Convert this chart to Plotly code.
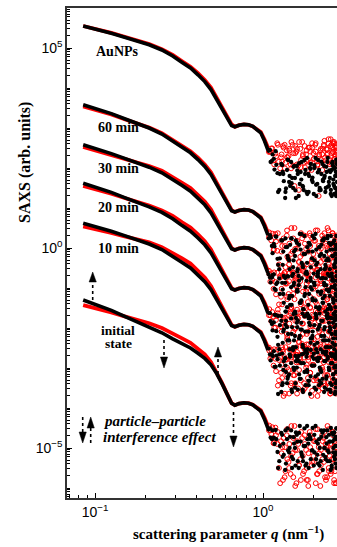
import numpy as np
import plotly.graph_objects as go

# ---------------- data ----------------
# scattering parameter q (nm^-1): smooth part of the curves
q_smooth = [0.085, 0.10, 0.125, 0.15, 0.18, 0.21, 0.25, 0.29, 0.33, 0.37, 0.41, 0.45, 0.49,
            0.53, 0.57, 0.61, 0.65, 0.68, 0.72, 0.77, 0.82, 0.87, 0.92, 0.97, 1.02, 1.07]
# q of the noisy high-q points (black dots / red circles)
q_noise_black = [1.08, 1.11, 1.14, 1.17, 1.20, 1.23, 1.26, 1.30, 1.33, 1.37, 1.40, 1.44, 1.48, 1.52,
                 1.56, 1.60, 1.64, 1.69, 1.73, 1.78, 1.83, 1.87, 1.92, 1.97, 2.02, 2.07, 2.12, 2.17,
                 2.22, 2.28, 2.33, 2.38, 2.43, 2.48, 2.53, 2.58, 2.62, 2.66, 2.70, 2.74,
                 1.10, 1.13, 1.16, 1.19, 1.22, 1.25, 1.285, 1.32, 1.355, 1.39, 1.43, 1.47, 1.51, 1.55,
                 1.59, 1.63, 1.675, 1.72, 1.765, 1.815, 1.86, 1.905, 1.955, 2.005, 2.055, 2.105, 2.155,
                 2.205, 2.26, 2.315, 2.365, 2.415, 2.465, 2.515, 2.565, 2.61, 2.65, 2.69, 2.73, 2.745,
                 1.31, 1.36, 1.41, 1.45, 1.49, 1.53, 1.57, 1.61, 1.655, 1.70, 1.745, 1.79, 1.835, 1.88,
                 1.925, 1.975, 2.025, 2.075, 2.125, 2.175, 2.225, 2.27, 2.31, 2.35, 2.39, 2.43, 2.47,
                 2.50, 2.535, 2.565, 2.595, 2.625, 2.655, 2.68, 2.705, 2.725, 2.74, 2.755, 2.715, 2.695]
q_noise_red = [1.09, 1.12, 1.155, 1.185, 1.215, 1.245, 1.28, 1.315, 1.35, 1.385, 1.42, 1.46, 1.50,
               1.54, 1.58, 1.62, 1.665, 1.71, 1.755, 1.805, 1.85, 1.895, 1.945, 1.995, 2.045, 2.095,
               2.145, 2.195, 2.25, 2.305, 2.355, 2.405, 2.455, 2.505, 2.555, 2.60, 2.64, 2.68, 2.72, 2.75,
               1.085, 1.105, 1.135, 1.165, 1.195, 1.225, 1.265, 1.29, 1.325, 1.36, 1.395, 1.435, 1.475,
               1.515, 1.555, 1.595, 1.635, 1.68, 1.725, 1.77, 1.82, 1.86, 1.91, 1.96, 2.01, 2.06, 2.11,
               2.16, 2.21, 2.265, 2.32, 2.37, 2.42, 2.47, 2.52, 2.57, 2.61, 2.65, 2.69, 2.73,
               1.30, 1.345, 1.39, 1.43, 1.47, 1.515, 1.555, 1.595, 1.64, 1.685, 1.73, 1.775, 1.82,
               1.865, 1.91, 1.96, 2.01, 2.06, 2.11, 2.16, 2.21, 2.255, 2.30, 2.34, 2.38, 2.42, 2.46,
               2.495, 2.53, 2.56, 2.59, 2.62, 2.65, 2.675, 2.70, 2.72, 2.735, 2.75, 2.71, 2.685]

# log10 of SAXS intensity (arb. units)
aunps_black_smooth = [5.55, 5.48, 5.37, 5.27, 5.17, 5.08, 4.95, 4.80, 4.64, 4.50, 4.33, 4.16, 3.96,
                      3.71, 3.47, 3.25, 3.06, 3.03, 3.07, 3.09, 3.08, 3.04, 2.97, 2.88, 2.68, 2.45]
aunps_red_smooth = [5.55, 5.48, 5.38, 5.28, 5.19, 5.10, 4.97, 4.83, 4.67, 4.53, 4.37, 4.20, 4.01,
                    3.76, 3.52, 3.29, 3.09, 3.03, 3.07, 3.09, 3.08, 3.04, 2.97, 2.90, 2.72, 2.51]
aunps_black_noise = [2.43, 2.15, 2.34, 1.96, 2.08, 1.40, 1.85, 2.07, 1.67, 1.49, 2.21, 1.80, 1.62,
                     2.03, 1.44, 1.94, 2.12, 1.71, 1.53, 1.85, 2.25, 1.40, 1.98, 1.76, 2.07, 1.58,
                     1.89, 1.44, 2.16, 1.67, 1.80, 2.03, 1.53, 1.94, 1.35, 2.12, 1.71, 1.98, 1.49, 2.21,
                     2.45, 2.18, 2.23, 2.42, 1.87, 1.45, 2.10, 1.85, 1.25, 1.95, 1.65, 2.15, 1.50,
                     1.75, 2.05, 1.30, 1.90, 1.55, 2.20, 1.40, 1.85, 2.00, 1.70, 1.35, 2.25, 1.60,
                     1.95, 1.45, 2.10, 1.75, 1.50, 2.15, 1.65, 1.90, 1.30, 2.05, 1.55, 1.80, 2.20, 1.40,
                     1.90, 1.40, 2.20, 1.55, 1.75, 2.05, 1.25, 1.85, 1.60, 2.15, 1.45, 1.95, 1.35,
                     1.80, 2.10, 1.65, 2.00, 1.30, 2.20, 1.50, 1.85, 1.70, 2.05, 1.40, 1.90, 2.25,
                     1.55, 1.75, 1.45, 1.95, 2.15, 1.60, 1.35, 2.00, 1.80, 1.30, 2.10, 1.65, 1.90, 1.50]
aunps_red_noise = [2.42, 2.49, 2.19, 2.36, 2.62, 2.16, 2.27, 2.55, 1.99, 2.44, 2.30, 2.09, 2.58,
                   1.55, 2.41, 2.06, 2.48, 2.65, 2.13, 2.34, 2.20, 2.51, 1.95, 2.37, 2.58, 2.16,
                   1.30, 2.44, 2.34, 2.55, 2.19, 2.33, 2.72, 2.09, 2.58, 2.40, 2.61, 2.23, 2.51, 2.37,
                   2.40, 2.41, 2.49, 2.09, 2.29, 2.58, 1.99, 2.34, 2.51, 2.13, 2.27, 2.44, 2.65,
                   2.06, 2.37, 2.48, 1.45, 2.02, 2.30, 2.55, 2.16, 1.95, 2.41, 2.51, 2.23, 2.62,
                   2.09, 2.34, 2.20, 2.48, 2.68, 2.12, 2.47, 2.23, 2.54, 2.37, 2.65, 2.09, 2.40, 2.51,
                   2.16, 2.58, 2.27, 2.48, 1.99, 2.37, 2.55, 2.09, 2.65, 2.20, 2.34, 2.02, 2.44,
                   2.51, 2.13, 2.62, 2.23, 2.41, 2.06, 2.30, 2.48, 1.95, 2.58, 2.26, 2.47, 2.37,
                   2.61, 2.19, 2.72, 2.12, 2.51, 2.40, 2.65, 2.23, 2.33, 2.54, 2.09, 2.44, 2.58, 2.30]

m60_black_smooth = [3.58, 3.49, 3.36, 3.23, 3.11, 3.00, 2.85, 2.68, 2.52, 2.38, 2.21, 2.04, 1.84,
                    1.59, 1.35, 1.13, 0.93, 0.90, 0.94, 0.96, 0.95, 0.91, 0.84, 0.75, 0.55, 0.32]
m60_red_smooth = [3.54, 3.46, 3.34, 3.22, 3.11, 3.01, 2.87, 2.71, 2.56, 2.42, 2.26, 2.09, 1.89,
                  1.64, 1.40, 1.17, 0.95, 0.90, 0.94, 0.96, 0.95, 0.91, 0.84, 0.77, 0.59, 0.38]
m60_black_noise = [0.24, 0.26, -0.13, 0.04, 0.28, -0.42, -0.26, 0.19, -0.70, 0.02, -0.20, -0.53, 0.24,
                   -0.31, -0.04, -0.59, 0.08, 0.35, -0.48, -0.15, -0.37, 0.13, -0.75, -0.09, 0.24,
                   -0.42, -0.64, 0.02, -0.15, 0.19, -0.53, -0.31, 0.30, -0.70, 0.08, -0.20, 0.13,
                   -0.48, -0.04, -0.26,
                   0.32, 0.05, 0.10, 0.29, -0.27, -0.53, 0.19, -0.09, -0.75, 0.02, -0.31, 0.24, -0.48,
                   -0.20, 0.13, -0.70, -0.04, -0.42, 0.30, -0.59, -0.09, 0.08, -0.26, -0.64, 0.35,
                   -0.37, 0.02, -0.53, 0.19, -0.20, -0.48, 0.24, -0.31, -0.04, -0.70, 0.13, -0.42,
                   -0.15, 0.30, -0.59,
                   -0.42, 0.24, -0.26, 0.08, -0.70, -0.09, 0.19, -0.53, 0.35, -0.37, -0.15, -0.64,
                   0.02, 0.13, -0.48, 0.30, -0.31, -0.04, -0.59, -0.20, 0.08, -0.75, 0.24, -0.42,
                   -0.09, -0.26, 0.13, -0.53, 0.30, -0.64, -0.04, -0.20, 0.19, -0.48, -0.31, 0.02,
                   -0.70, -0.15, 0.08, -0.37]
m60_red_noise = [0.39, 0.19, -0.05, 0.35, -0.07, -0.41, 0.18, -0.67, 0.05, 0.31, -0.28, -0.54, -0.09,
                 0.50, -0.74, 0.11, -0.22, 0.24, -0.48, -0.02, -0.67, 0.37, -0.35, -0.15, 0.18,
                 -0.54, 0.05, -0.80, 0.31, -0.28, 0.11, -0.61, 0.44, -0.02, -0.48, 0.37, -0.22,
                 0.11, -0.74, -0.09,
                 0.27, 0.28, 0.36, -0.04, 0.16, 0.37, -0.74, -0.09, 0.24, -0.48, -0.22, 0.11, 0.50,
                 -0.61, -0.02, 0.18, -0.35, -0.67, -0.15, 0.31, -0.41, -0.80, 0.05, 0.24, -0.28,
                 0.44, -0.54, -0.09, -0.35, 0.18, 0.37, -0.67, -0.02, -0.48, 0.11, -0.22, 0.31,
                 -0.74, -0.15, 0.05,
                 0.05, -0.61, 0.44, -0.41, -0.15, 0.24, -0.80, -0.02, -0.35, 0.37, -0.54, 0.11,
                 -0.67, -0.09, 0.31, -0.28, 0.18, -0.74, 0.44, -0.48, -0.02, -0.22, 0.24, -0.61,
                 0.05, 0.50, -0.41, -0.15, -0.54, 0.11, 0.37, -0.35, -0.67, 0.18, -0.09, -0.74,
                 0.31, -0.28, 0.05, -0.48]

m30_black_smooth = [2.58, 2.49, 2.36, 2.24, 2.12, 2.02, 1.88, 1.72, 1.56, 1.42, 1.25, 1.08, 0.88,
                    0.63, 0.39, 0.17, -0.02, -0.05, -0.01, 0.01, 0.00, -0.04, -0.11, -0.20, -0.40, -0.63]
m30_red_smooth = [2.53, 2.45, 2.33, 2.23, 2.13, 2.05, 1.93, 1.78, 1.63, 1.50, 1.33, 1.16, 0.96,
                  0.70, 0.45, 0.21, 0.00, -0.05, -0.01, 0.01, 0.00, -0.04, -0.11, -0.18, -0.36, -0.57]
m30_black_noise = [-0.66, -0.86, -0.68, -1.02, -0.90, -1.70, -1.15, -0.87, -1.37, -1.59, -0.71, -1.20,
                   -1.42, -0.93, -1.64, -1.04, -0.82, -1.31, -1.53, -1.15, -0.65, -1.70, -0.98,
                   -1.26, -0.87, -1.48, -1.09, -1.64, -0.76, -1.37, -1.20, -0.93, -1.53, -1.04,
                   -1.75, -0.82, -1.31, -0.98, -1.59, -0.71,
                   -0.74, -0.74, -0.66, -1.05, -0.86, -0.76, -1.70, -1.15, -0.87, -1.48, -1.26, -0.98,
                   -0.65, -1.59, -1.09, -0.93, -1.37, -1.64, -1.20, -0.82, -1.42, -1.75, -1.04,
                   -0.87, -1.31, -0.71, -1.53, -1.15, -1.37, -0.93, -0.76, -1.64, -1.09, -1.48,
                   -0.98, -1.26, -0.82, -1.70, -1.20, -1.04,
                   -1.04, -1.59, -0.71, -1.42, -1.20, -0.87, -1.75, -1.09, -1.37, -0.76, -1.53, -0.98,
                   -1.64, -1.15, -0.82, -1.31, -0.93, -1.70, -0.71, -1.48, -1.09, -1.26, -0.87,
                   -1.59, -1.04, -0.65, -1.42, -1.20, -1.53, -0.98, -0.76, -1.37, -1.64, -0.93,
                   -1.15, -1.70, -0.82, -1.31, -1.04, -1.48]
m30_red_noise = [-0.65, -0.63, -1.02, -0.85, -0.62, -1.41, -1.22, -0.70, -1.74, -0.89, -1.15, -1.54,
                 -0.63, -1.28, -0.96, -1.61, -0.83, -0.50, -1.48, -1.09, -1.35, -0.76, -1.80,
                 -1.02, -0.63, -1.41, -1.67, -0.89, -1.09, -0.70, -1.54, -1.28, -0.57, -1.74,
                 -0.83, -1.15, -0.76, -1.48, -0.96, -1.22,
                 -0.57, -0.84, -0.80, -0.61, -1.16, -1.54, -0.70, -1.02, -1.80, -0.89, -1.28, -0.63,
                 -1.48, -1.15, -0.76, -1.74, -0.96, -1.41, -0.57, -1.61, -1.02, -0.83, -1.22,
                 -1.67, -0.50, -1.35, -0.89, -1.54, -0.70, -1.15, -1.48, -0.63, -1.28, -0.96,
                 -1.74, -0.76, -1.41, -1.09, -0.57, -1.61,
                 -1.41, -0.63, -1.22, -0.83, -1.74, -1.02, -0.70, -1.54, -0.50, -1.35, -1.09, -1.67,
                 -0.89, -0.76, -1.48, -0.57, -1.28, -0.96, -1.61, -1.15, -0.83, -1.80, -0.63,
                 -1.41, -1.02, -1.22, -0.76, -1.54, -0.57, -1.67, -0.96, -1.15, -0.70, -1.48,
                 -1.28, -0.89, -1.74, -1.09, -0.83, -1.35]

m20_black_smooth = [1.62, 1.53, 1.39, 1.26, 1.14, 1.03, 0.89, 0.73, 0.56, 0.42, 0.25, 0.08, -0.12,
                    -0.37, -0.61, -0.83, -1.02, -1.05, -1.01, -0.99, -1.00, -1.04, -1.11, -1.20, -1.40, -1.63]
m20_red_smooth = [1.55, 1.48, 1.36, 1.25, 1.15, 1.06, 0.94, 0.80, 0.64, 0.51, 0.34, 0.17, -0.04,
                  -0.30, -0.55, -0.79, -1.00, -1.05, -1.01, -0.99, -1.00, -1.04, -1.11, -1.18, -1.36, -1.57]
m20_black_noise = [-1.62, -1.83, -2.06, -1.67, -2.08, -2.42, -1.93, -2.64, -2.04, -1.82, -2.31, -2.53,
                   -2.15, -1.65, -2.70, -1.98, -2.26, -1.87, -2.48, -2.09, -2.64, -1.76, -2.37,
                   -2.20, -1.93, -2.53, -2.04, -2.75, -1.82, -2.31, -1.98, -2.59, -1.71, -2.09,
                   -2.48, -1.76, -2.26, -1.98, -2.70, -2.15,
                   -1.63, -1.90, -1.86, -1.67, -2.22, -2.53, -1.82, -2.09, -2.75, -1.98, -2.31, -1.76,
                   -2.48, -2.20, -1.87, -2.70, -2.04, -2.42, -1.71, -2.59, -2.09, -1.93, -2.26,
                   -2.64, -1.65, -2.37, -1.98, -2.53, -1.82, -2.20, -2.48, -1.76, -2.31, -2.04,
                   -2.70, -1.87, -2.42, -2.15, -1.71, -2.59,
                   -2.37, -1.92, -2.15, -2.70, -1.98, -2.31, -2.48, -1.81, -2.20, -2.04, -2.64, -1.70,
                   -2.53, -1.87, -2.26, -2.09, -2.42, -1.76, -2.75, -1.92, -2.20, -2.59, -2.04,
                   -2.31, -1.70, -2.48, -1.87, -1.98, -2.64, -2.15, -2.37, -1.65, -2.53, -1.81,
                   -2.09, -2.70, -1.92, -2.26, -1.76, -2.42]
m20_red_noise = [-1.53, -1.83, -1.72, -1.99, -1.70, -2.80, -1.96, -2.54, -1.83, -2.15, -2.35, -1.63,
                 -2.67, -2.02, -2.48, -1.76, -2.22, -1.89, -2.74, -1.50, -2.09, -2.54, -2.28,
                 -1.70, -1.96, -2.67, -1.83, -2.41, -2.15, -1.57, -2.61, -2.35, -1.76, -2.09,
                 -2.74, -1.89, -2.22, -1.63, -2.48, -2.02,
                 -1.68, -1.68, -1.60, -1.99, -1.80, -1.63, -2.74, -2.09, -1.76, -2.48, -2.22, -1.89,
                 -1.50, -2.61, -2.02, -1.83, -2.35, -2.67, -2.15, -1.70, -2.41, -2.80, -1.96,
                 -1.76, -2.28, -1.57, -2.54, -2.09, -2.35, -1.83, -1.63, -2.67, -2.02, -2.48,
                 -1.89, -2.22, -1.70, -2.74, -2.15, -1.96,
                 -2.48, -1.95, -2.28, -1.69, -2.74, -2.09, -1.82, -2.67, -2.35, -1.63, -1.89, -2.54,
                 -2.15, -2.41, -1.50, -1.95, -2.61, -1.76, -2.22, -2.02, -2.48, -1.56, -2.74,
                 -1.82, -2.28, -1.69, -2.09, -2.67, -1.89, -2.54, -1.63, -2.35, -2.02, -2.80,
                 -1.76, -2.15, -2.41, -1.56, -2.61, -1.95]

m10_black_smooth = [0.62, 0.54, 0.42, 0.31, 0.20, 0.10, -0.04, -0.20, -0.36, -0.50, -0.67, -0.84, -1.04,
                    -1.29, -1.53, -1.75, -1.94, -1.97, -1.93, -1.91, -1.92, -1.96, -2.03, -2.12, -2.32, -2.55]
m10_red_smooth = [0.54, 0.48, 0.38, 0.29, 0.21, 0.14, 0.02, -0.12, -0.26, -0.39, -0.56, -0.74, -0.95,
                  -1.21, -1.47, -1.71, -1.92, -1.97, -1.93, -1.91, -1.92, -1.96, -2.03, -2.10, -2.28, -2.49]
m10_black_noise = [-2.51, -2.81, -2.70, -2.97, -2.69, -3.65, -2.94, -3.43, -2.83, -3.10, -3.27, -2.66,
                   -3.54, -2.99, -3.38, -2.77, -3.16, -2.88, -3.60, -2.55, -3.05, -3.43, -3.21,
                   -2.72, -2.94, -3.54, -2.83, -3.32, -3.10, -2.61, -3.49, -3.27, -2.77, -3.05,
                   -3.60, -2.88, -3.16, -2.66, -3.38, -2.99,
                   -2.66, -2.66, -2.58, -2.97, -2.78, -2.66, -3.60, -3.05, -2.77, -3.38, -3.16, -2.88,
                   -2.55, -3.49, -2.99, -2.83, -3.27, -3.54, -3.10, -2.72, -3.32, -3.65, -2.94,
                   -2.77, -3.21, -2.61, -3.43, -3.05, -3.27, -2.83, -2.66, -3.54, -2.99, -3.38,
                   -2.88, -3.16, -2.72, -3.60, -3.10, -2.94,
                   -3.38, -2.94, -3.21, -2.72, -3.60, -3.05, -2.83, -3.54, -3.27, -2.66, -2.88, -3.43,
                   -3.10, -3.32, -2.55, -2.94, -3.49, -2.77, -3.16, -2.99, -3.38, -2.61, -3.60,
                   -2.83, -3.21, -2.72, -3.05, -3.54, -2.88, -3.43, -2.66, -3.27, -2.99, -3.65,
                   -2.77, -3.10, -3.32, -2.61, -3.49, -2.94]
m10_red_noise = [-2.57, -2.55, -2.94, -2.77, -2.54, -3.31, -3.12, -2.60, -3.64, -2.79, -3.05, -3.44,
                 -2.53, -3.18, -2.86, -3.51, -2.73, -2.40, -3.38, -2.99, -3.25, -2.66, -3.70,
                 -2.92, -2.53, -3.31, -3.57, -2.79, -2.99, -2.60, -3.44, -3.18, -2.47, -3.64,
                 -2.73, -3.05, -2.66, -3.38, -2.86, -3.12,
                 -2.49, -2.76, -2.72, -2.53, -3.08, -3.44, -2.60, -2.92, -3.70, -2.79, -3.18, -2.53,
                 -3.38, -3.05, -2.66, -3.64, -2.86, -3.31, -2.47, -3.51, -2.92, -2.73, -3.12,
                 -3.57, -2.40, -3.25, -2.79, -3.44, -2.60, -3.05, -3.38, -2.53, -3.18, -2.86,
                 -3.64, -2.66, -3.31, -2.99, -2.47, -3.51,
                 -3.25, -2.73, -2.99, -3.64, -2.79, -3.18, -3.38, -2.60, -3.05, -2.86, -3.57, -2.47,
                 -3.44, -2.66, -3.12, -2.92, -3.31, -2.53, -3.70, -2.73, -3.05, -3.51, -2.86,
                 -3.18, -2.47, -3.38, -2.66, -2.79, -3.57, -2.99, -3.25, -2.40, -3.44, -2.60,
                 -2.92, -3.64, -2.73, -3.12, -2.53, -3.31]

init_black_smooth = [-1.30, -1.40, -1.56, -1.71, -1.85, -1.97, -2.12, -2.27, -2.40, -2.50, -2.63, -2.76,
                     -2.92, -3.14, -3.39, -3.65, -3.88, -3.93, -3.89, -3.87, -3.88, -3.92, -3.99,
                     -4.08, -4.28, -4.51]
init_red_smooth = [-1.43, -1.50, -1.61, -1.71, -1.80, -1.88, -2.00, -2.13, -2.26, -2.37, -2.51, -2.66,
                   -2.85, -3.10, -3.37, -3.64, -3.88, -3.93, -3.89, -3.87, -3.88, -3.92, -3.99,
                   -4.06, -4.24, -4.45]
init_black_noise = [-4.54, -4.74, -4.56, -4.90, -4.78, -5.50, -4.95, -4.67, -5.17, -5.39, -4.51, -5.00,
                    -5.22, -4.73, -5.44, -4.84, -4.62, -5.11, -5.33, -4.95, -4.45, -5.50, -4.78,
                    -5.06, -4.67, -5.28, -4.89, -5.44, -4.56, -5.17, -5.00, -4.73, -5.33, -4.84,
                    -5.55, -4.62, -5.11, -4.78, -5.39, -4.51,
                    -4.51, -4.78, -4.74, -4.55, -5.10, -5.33, -4.62, -4.89, -5.55, -4.78, -5.11, -4.56,
                    -5.28, -5.00, -4.67, -5.50, -4.84, -5.22, -4.51, -5.39, -4.89, -4.73, -5.06,
                    -5.44, -4.45, -5.17, -4.78, -5.33, -4.62, -5.00, -5.28, -4.56, -5.11, -4.84,
                    -5.50, -4.67, -5.22, -4.95, -4.51, -5.39,
                    -5.22, -4.56, -5.06, -4.72, -5.50, -4.89, -4.61, -5.33, -4.45, -5.17, -4.95, -5.44,
                    -4.78, -4.67, -5.28, -4.50, -5.11, -4.84, -5.39, -5.00, -4.72, -5.55, -4.56,
                    -5.22, -4.89, -5.06, -4.67, -5.33, -4.50, -5.44, -4.84, -5.00, -4.61, -5.28,
                    -5.11, -4.78, -5.50, -4.95, -4.72, -5.17]
init_red_noise = [-4.44, -4.65, -4.88, -4.49, -4.90, -5.50, -4.83, -5.80, -4.98, -4.68, -5.35, -5.65,
                  -5.13, -4.45, -5.88, -4.90, -5.28, -4.75, -5.58, -5.05, -5.80, -4.60, -5.43,
                  -5.20, -4.83, -5.65, -4.98, -5.95, -4.68, -5.35, -4.90, -5.73, -4.53, -5.05,
                  -5.58, -4.60, -5.28, -4.90, -5.88, -5.13,
                  -4.56, -4.56, -4.48, -4.87, -4.68, -4.60, -5.88, -5.13, -4.75, -5.58, -5.28, -4.90,
                  -4.45, -5.73, -5.05, -4.83, -5.43, -5.80, -5.20, -4.68, -5.50, -5.95, -4.98,
                  -4.75, -5.35, -4.53, -5.65, -5.13, -5.43, -4.83, -4.60, -5.80, -5.05, -5.58,
                  -4.90, -5.28, -4.68, -5.88, -5.20, -4.98,
                  -4.98, -5.73, -4.53, -5.50, -5.20, -4.75, -5.95, -5.05, -5.43, -4.60, -5.65, -4.90,
                  -5.80, -5.13, -4.68, -5.35, -4.83, -5.88, -4.53, -5.58, -5.05, -5.28, -4.75,
                  -5.73, -4.98, -4.45, -5.50, -5.20, -5.65, -4.90, -4.60, -5.43, -5.80, -4.83,
                  -5.13, -5.88, -4.68, -5.35, -4.98, -5.58]

curve_labels = ["AuNPs", "60 min", "30 min", "20 min", "10 min"]
y_tick_exponents = [-5, 0, 5]
x_tick_exponents = [-1, 0]

# ---------------- figure ----------------
curves = [
    (aunps_black_smooth, aunps_red_smooth, aunps_black_noise, aunps_red_noise),
    (m60_black_smooth, m60_red_smooth, m60_black_noise, m60_red_noise),
    (m30_black_smooth, m30_red_smooth, m30_black_noise, m30_red_noise),
    (m20_black_smooth, m20_red_smooth, m20_black_noise, m20_red_noise),
    (m10_black_smooth, m10_red_smooth, m10_black_noise, m10_red_noise),
    (init_black_smooth, init_red_smooth, init_black_noise, init_red_noise),
]

RED = "#ff0000"
fig = go.Figure()
# noisy high-q points: red circles underneath, black dots on top
for bs, rs, bn, rn in curves:
    fig.add_trace(go.Scatter(
        x=q_noise_red, y=10 ** np.array(rn), mode="markers",
        marker=dict(symbol="circle-open", size=4.8, color=RED, line=dict(width=1)),
        showlegend=False, hoverinfo="skip"))
for bs, rs, bn, rn in curves:
    fig.add_trace(go.Scatter(
        x=q_noise_black, y=10 ** np.array(bn), mode="markers",
        marker=dict(symbol="circle", size=4.3, color="black"),
        showlegend=False, hoverinfo="skip"))
# smooth low-q parts
for bs, rs, bn, rn in curves:
    fig.add_trace(go.Scatter(
        x=q_smooth, y=10 ** np.array(rs), mode="lines",
        line=dict(color=RED, width=3.8),
        showlegend=False, hoverinfo="skip"))
    fig.add_trace(go.Scatter(
        x=q_smooth, y=10 ** np.array(bs), mode="lines",
        line=dict(color="black", width=3.6),
        showlegend=False, hoverinfo="skip"))

# plot-area geometry in pixels
W, H = 337, 547
L, R, T, B = 67, 337, 8, 498


def px(x):
    return (x - L) / (R - L)


def py(y):
    return (B - y) / (B - T)


SERIF = "Liberation Serif"
SANS = "Liberation Sans"

annotations = []
label_pos = [(94, 51), (96, 127), (96, 168), (96, 207), (96, 248)]
for text, (lx, ly) in zip(curve_labels, label_pos):
    annotations.append(dict(text=f"<b>{text}</b>", x=px(lx), y=py(ly), xref="paper", yref="paper",
                            xanchor="left", yanchor="middle", showarrow=False,
                            font=dict(family=SERIF, size=14, color="black")))
for text, ly in [("initial", 330), ("state", 343)]:
    annotations.append(dict(text=f"<b>{text}</b>", x=px(118), y=py(ly), xref="paper", yref="paper",
                            xanchor="center", yanchor="middle", showarrow=False,
                            font=dict(family=SERIF, size=13.5, color="black")))
for text, ly in [("particle–particle", 421), ("interference effect", 437)]:
    annotations.append(dict(text=f"<b><i>{text}</i></b>", x=px(101), y=py(ly), xref="paper", yref="paper",
                            xanchor="left", yanchor="middle", showarrow=False,
                            font=dict(family=SERIF, size=15, color="black")))
# axis titles
annotations.append(dict(text="<b>SAXS (arb. units)</b>", x=px(25), y=py(163), xref="paper", yref="paper",
                        xanchor="center", yanchor="middle", showarrow=False, textangle=-90,
                        font=dict(family=SERIF, size=16, color="black")))
annotations.append(dict(text="<b>scattering parameter <i>q</i> (nm<sup>−1</sup>)</b>", x=px(228), y=py(533),
                        xref="paper", yref="paper", xanchor="center", yanchor="middle", showarrow=False,
                        font=dict(family=SERIF, size=15, color="black")))

# dotted arrows (x, shaft start, shaft end, tip)
arrows = [
    (92.7, 300, 282, 272),
    (164, 340, 357, 368),
    (218, 374, 357, 347),
    (233.5, 412, 436, 447),
    (82.7, 417, 432, 443),
    (90.7, 443, 428, 417),
]
shapes = []
for ax_, s0, s1, tip in arrows:
    shapes.append(dict(type="line", xref="paper", yref="paper", x0=px(ax_), x1=px(ax_),
                       y0=py(s0), y1=py(s1), line=dict(color="black", width=1.6, dash="dot")))
    hw = 3.6
    path = f"M {px(ax_ - hw)},{py(s1)} L {px(ax_ + hw)},{py(s1)} L {px(ax_)},{py(tip)} Z"
    shapes.append(dict(type="path", xref="paper", yref="paper", path=path,
                       fillcolor="black", line=dict(color="black", width=0.5)))

y_major = [10.0 ** k for k in y_tick_exponents]
y_text = [f"10<sup>{'−' if k < 0 else ''}{abs(k)}</sup>" for k in y_tick_exponents]
y_minor = [m * 10.0 ** k for k in range(-7, 7) for m in range(1, 10)
           if not (m == 1 and k in y_tick_exponents)]
x_major = [10.0 ** k for k in x_tick_exponents]
x_text = [f"10<sup>{'−' if k < 0 else ''}{abs(k)}</sup>" for k in x_tick_exponents]
x_minor = [m * 10.0 ** k for k in (-2, -1, 0) for m in range(2, 10)]

fig.update_layout(
    width=W, height=H,
    margin=dict(l=L, r=W - R, t=T, b=H - B, autoexpand=False),
    paper_bgcolor="white", plot_bgcolor="white",
    showlegend=False,
    annotations=annotations,
    shapes=shapes,
    xaxis=dict(type="log", range=[np.log10(0.0681), np.log10(2.757)],
               tickmode="array", tickvals=x_major, ticktext=x_text,
               ticks="inside", ticklen=5, tickwidth=1, tickcolor="black",
               minor=dict(tickmode="array", tickvals=x_minor, ticks="inside", ticklen=3,
                          tickwidth=1, tickcolor="black", showgrid=False),
               showline=True, linecolor="#333", linewidth=1.5, mirror=True,
               showgrid=False, zeroline=False, automargin=False,
               tickfont=dict(family=SANS, size=14, color="black")),
    yaxis=dict(type="log", range=[-6.25, 6.0],
               tickmode="array", tickvals=y_major, ticktext=y_text,
               ticks="inside", ticklen=5, tickwidth=1, tickcolor="black",
               minor=dict(tickmode="array", tickvals=y_minor, ticks="inside", ticklen=3,
                          tickwidth=1, tickcolor="black", showgrid=False),
               showline=True, linecolor="#333", linewidth=1.5, mirror=False,
               showgrid=False, zeroline=False, automargin=False,
               tickfont=dict(family=SANS, size=14, color="black")),
)

fig.write_html("out.html", config={"displayModeBar": False},
               post_script="document.body.style.margin='0';document.body.style.padding='0';")
